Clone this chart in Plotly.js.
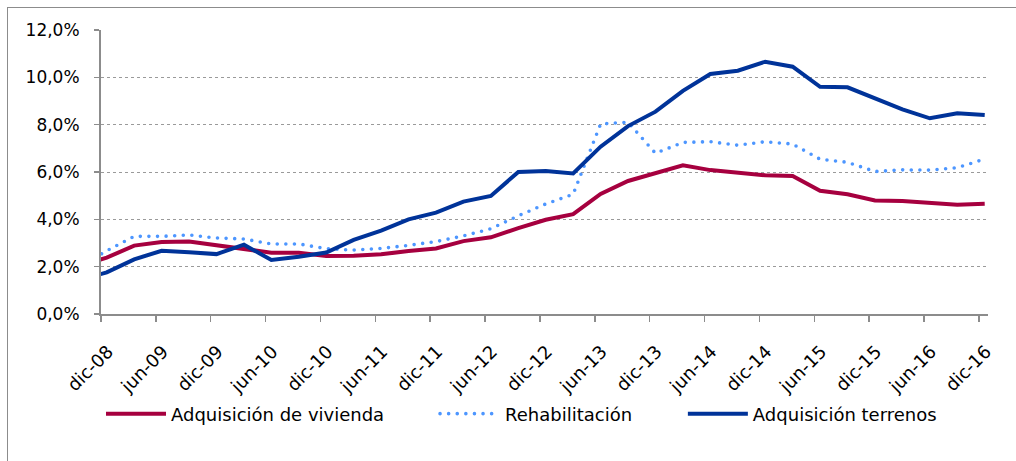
<!DOCTYPE html>
<html><head><meta charset="utf-8">
<script src="https://cdn.plot.ly/plotly-3.0.1.min.js"></script>
<style>
html,body{margin:0;padding:0;background:#fff;}
#wrap{position:relative;width:1016px;height:461px;overflow:hidden;}
#chart{width:1016px;height:461px;}
#frame{position:absolute;left:7px;top:7px;width:1100px;height:600px;border-left:1.5px solid #8c8c8c;border-top:1.5px solid #8c8c8c;pointer-events:none;}
path.js-line[style*="dasharray: 0px"]{stroke-linecap:round;}
</style></head>
<body>
<div id="wrap"><div id="chart"></div><div id="frame"></div></div>
<script>
// quarterly periods (first one is partly clipped by the axis start)
const quarters = ['sep-08','dic-08','mar-09','jun-09','sep-09','dic-09','mar-10','jun-10','sep-10','dic-10',
  'mar-11','jun-11','sep-11','dic-11','mar-12','jun-12','sep-12','dic-12','mar-13','jun-13','sep-13','dic-13',
  'mar-14','jun-14','sep-14','dic-14','mar-15','jun-15','sep-15','dic-15','mar-16','jun-16','sep-16','dic-16'];
const vivienda = [2.05,2.38,2.89,3.04,3.06,2.90,2.77,2.59,2.59,2.45,2.46,2.52,2.66,2.77,3.08,3.24,3.63,3.98,
  4.22,5.07,5.62,5.97,6.28,6.08,5.97,5.86,5.83,5.21,5.06,4.80,4.77,4.68,4.62,4.66];
const rehabilitacion = [2.00,2.67,3.28,3.28,3.34,3.21,3.17,2.96,2.96,2.76,2.70,2.77,2.90,3.06,3.30,3.60,4.15,4.65,
  5.06,8.03,8.10,6.79,7.25,7.28,7.13,7.28,7.18,6.54,6.41,6.02,6.09,6.08,6.18,6.55];
const terrenos = [1.43,1.76,2.31,2.67,2.61,2.53,2.93,2.28,2.42,2.60,3.13,3.52,4.00,4.28,4.75,4.99,6.00,6.04,
  5.94,7.07,7.94,8.55,9.43,10.14,10.28,10.66,10.45,9.60,9.58,9.11,8.65,8.27,8.48,8.41];
const tickLabels = ['dic-08','jun-09','dic-09','jun-10','dic-10','jun-11','dic-11','jun-12','dic-12',
  'jun-13','dic-13','jun-14','dic-14','jun-15','dic-15','jun-16','dic-16'];

// data dates fall a little after the tick date
const OFFSET = 0.21;
const xs = quarters.map((q, k) => k - 1 + OFFSET);
const tickvals = tickLabels.map((t, k) => 2 * k);

const traces = [
  {x: xs, y: vivienda, text: quarters, name: 'Adquisición de vivienda', type: 'scatter', mode: 'lines',
   line: {color: '#A6003F', width: 4}, legend: 'legend'},
  {x: xs, y: rehabilitacion, text: quarters, name: 'Rehabilitación', type: 'scatter', mode: 'lines',
   line: {color: '#4D96FF', width: 3.6, dash: '0px,8.6px'}, legend: 'legend2'},
  {x: xs, y: terrenos, text: quarters, name: 'Adquisición terrenos', type: 'scatter', mode: 'lines',
   line: {color: '#003399', width: 4}, legend: 'legend3'}
];

const axisGray = '#8c8c8c';
const legendBase = {
  orientation: 'h', xanchor: 'left', y: -0.352, yanchor: 'middle',
  font: {size: 18, color: '#000'}, itemwidth: 60, bgcolor: 'rgba(0,0,0,0)'
};
const layout = {
  width: 1016, height: 461,
  margin: {l: 101, r: 28, t: 30, b: 147, pad: 0},
  paper_bgcolor: '#ffffff', plot_bgcolor: '#ffffff',
  separators: ',.',
  font: {family: 'DejaVu Sans', color: '#000000'},
  showlegend: true,
  xaxis: {
    range: [0, 32.33], tickmode: 'array', tickvals: tickvals, ticktext: tickLabels, tickangle: -45,
    showgrid: false, zeroline: false, showline: true, linecolor: axisGray, linewidth: 2,
    ticks: 'outside', ticklen: 6, tickwidth: 1.5, tickcolor: axisGray,
    ticklabelshift: 7, ticklabelstandoff: 12,
    tickfont: {size: 18, color: '#000'}
  },
  yaxis: {
    range: [0, 12], tick0: 0, dtick: 2, tickformat: '.1f', ticksuffix: '%',
    showgrid: true, gridcolor: '#9a9a9a', griddash: 'dot', gridwidth: 1,
    zeroline: false, showline: true, linecolor: axisGray, linewidth: 2,
    ticks: 'outside', ticklen: 5, tickwidth: 1.5, tickcolor: axisGray,
    ticklabelstandoff: 11, tickfont: {size: 17, color: '#000'}
  },
  legend: Object.assign({}, legendBase, {x: 0}),
  legend2: Object.assign({}, legendBase, {x: 0.3766}),
  legend3: Object.assign({}, legendBase, {x: 0.656})
};

Plotly.newPlot('chart', traces, layout, {staticPlot: true, displayModeBar: false});
</script>
</body></html>
